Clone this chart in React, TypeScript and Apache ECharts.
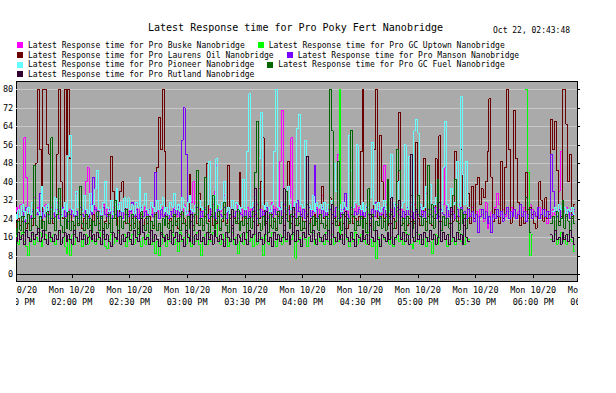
import { useEffect, useRef } from "react";
import * as echarts from "echarts";

const N = null;

const chartTitle = "Latest Response time for Pro Poky Fert Nanobridge";
const stamp = "Oct 22, 02:43:48";

const seriesNames = [
  "Latest Response time for Pro Buske Nanobridge",
  "Latest Response time for Pro GC Uptown Nanobridge",
  "Latest Response time for Pro Laurens Oil Nanobridge",
  "Latest Response time for Pro Manson Nanobridge",
  "Latest Response time for Pro Pioneer Nanobridge",
  "Latest Response time for Pro GC Fuel Nanobridge",
  "Latest Response time for Pro Rutland Nanobridge",
];
const seriesColors = ["#ff00ff", "#00ff00", "#6b0000", "#7a00ff", "#66ffff", "#006600", "#330033"];
const legendRows = [[0, 1], [2, 3], [4, 5], [6]];

const yTicks = [0, 8, 16, 24, 32, 40, 48, 56, 64, 72, 80];
const xTickClock = ["14:00", "14:30", "15:00", "15:30", "16:00", "16:30", "17:00", "17:30", "18:00"];
const edgeClock = ["13:30", "18:30"];
const firstSample = "13:31";
const axisStart = ["13:31", 6];
const axisEnd = ["18:22", 48];

// one sample per minute, starting 13:31
const buske = [
  27,29,26,30,28,59,42,27,25,28,33,26,29,27,25,28,30,26,27,29,
  26,28,31,27,25,29,27,30,26,28,27,25,35,29,26,28,27,40,46,30,
  27,26,29,25,28,27,30,26,28,25,27,29,26,28,30,25,27,26,29,27,
  28,25,27,30,26,28,25,27,29,26,28,29,26,25,27,28,26,29,27,25,
  28,26,27,29,25,27,28,26,30,27,25,28,31,40,29,26,28,25,27,29,
  26,28,27,30,36,47,29,27,28,34,26,27,29,25,28,30,27,26,28,25,
  27,29,26,28,25,27,30,37,28,26,29,27,25,28,31,27,29,26,49,71,
  30,27,29,33,59,28,26,27,29,25,28,27,26,30,28,25,27,29,26,28,
  34,27,26,28,29,26,27,25,52,30,28,26,29,27,25,28,26,30,27,29,
  26,28,25,27,29,26,28,27,25,29,26,28,47,30,27,26,28,25,29,27,
  26,28,27,25,29,26,27,28,30,26,25,28,27,29,35,26,28,25,27,29,
  26,28,27,30,46,29,26,28,27,25,29,30,28,26,27,25,28,26,29,24,
  27,25,28,26,23,31,20,22,27,25,29,35,30,26,28,25,27,24,29,26,
  28,25,27,24,26,29,27,25,30,28,26,25,27,29,26,24,28,22,27,25,
  28,26,27,36,53,30,27,29,26,28,25,27,
];
const gcUptown = [
  15,17,13,16,18,14,12,8,15,17,13,16,14,18,12,15,17,13,16,14,
  17,13,15,18,14,16,12,9,15,8,17,13,16,14,18,12,15,17,13,16,
  14,17,13,15,18,14,16,12,11,15,17,13,16,14,18,13,15,17,12,16,
  14,17,13,15,18,14,12,16,13,17,15,13,16,9,14,8,13,17,15,12,
  16,14,17,13,15,10,18,14,16,13,17,15,12,16,14,18,13,8,15,17,
  13,16,14,18,34,50,15,13,17,14,16,12,15,18,13,16,9,14,17,13,
  15,18,14,16,12,17,13,15,16,8,14,17,13,16,18,14,12,15,17,13,
  16,14,18,13,15,17,7,14,16,13,17,15,12,16,14,18,13,15,17,14,
  16,13,18,14,15,17,13,16,14,80,15,13,17,15,12,16,14,18,13,15,
  17,14,16,13,18,15,12,14,7,16,13,17,15,14,18,13,16,12,15,17,
  14,16,13,18,15,17,13,11,16,14,17,13,15,18,12,16,14,9,15,17,
  13,16,14,18,15,12,17,14,16,13,15,18,14,17,13,16,15,N,N,N,
  N,N,N,N,N,N,N,N,N,N,N,N,N,N,N,N,N,N,N,N,
  N,N,N,N,N,N,80,44,8,17,N,N,N,N,N,N,N,N,N,15,
  14,17,13,15,18,14,16,13,17,15,14,10,
];
const laurensOil = [
  22,20,24,21,23,25,20,22,26,21,24,48,80,54,23,80,80,56,52,24,
  22,25,52,80,40,24,80,52,80,50,23,21,25,22,26,20,24,22,25,21,
  23,26,21,24,22,25,20,23,26,22,51,36,24,21,25,36,40,33,22,26,
  21,24,22,25,20,23,26,21,24,22,25,23,21,26,46,68,54,80,53,25,
  22,24,21,25,23,20,26,22,24,21,25,43,23,21,26,22,35,24,21,25,
  48,23,26,21,24,22,25,20,23,26,22,47,24,21,25,23,22,44,26,21,
  24,22,25,20,23,26,21,24,40,59,25,22,24,21,26,23,20,25,22,24,
  21,26,49,23,22,25,21,24,22,26,20,23,25,22,24,21,26,23,25,22,
  38,24,21,26,33,22,25,23,21,24,26,22,25,20,23,26,22,24,21,25,
  53,80,24,22,26,21,25,54,80,24,60,40,23,26,21,25,22,24,20,40,
  70,25,22,26,21,24,23,25,22,57,24,21,26,50,23,25,22,21,24,50,
  26,60,23,25,21,24,22,26,23,53,25,22,54,24,21,26,35,22,38,24,
  39,42,30,37,33,40,53,76,42,23,28,25,22,49,24,46,80,54,22,25,
  71,50,31,21,25,22,44,24,29,26,22,20,25,40,32,23,33,24,26,67,
  54,66,45,23,25,80,80,65,40,52,24,30,
];
const manson = [
  26,24,28,25,27,23,29,26,24,27,25,28,26,35,24,27,25,29,26,24,
  27,25,28,24,26,29,25,27,23,26,28,25,27,24,29,26,25,28,24,27,
  26,42,28,25,27,24,29,26,25,28,24,27,26,29,25,27,24,28,26,25,
  27,31,25,28,24,26,29,25,27,24,28,26,25,44,27,24,28,25,26,29,
  24,27,25,28,26,29,25,58,72,52,27,24,28,25,26,29,24,27,25,28,
  26,24,29,25,27,24,28,26,25,29,24,27,26,28,25,27,24,29,26,25,
  28,24,27,25,29,26,24,28,25,27,26,29,24,27,25,28,26,24,29,25,
  27,24,28,26,25,29,24,32,27,25,28,24,26,29,25,27,47,28,24,26,
  29,25,27,24,28,26,25,29,24,27,25,28,35,26,24,29,25,27,26,28,
  24,27,25,29,26,24,28,25,31,27,24,26,29,25,28,24,27,25,30,29,
  28,25,27,24,29,26,25,28,24,27,26,29,25,27,24,28,26,25,29,24,
  27,25,28,26,24,29,25,27,26,24,28,25,29,26,27,24,28,25,27,23,
  26,18,25,28,24,27,22,25,18,26,24,28,25,27,23,26,29,24,27,25,
  28,24,26,30,25,27,23,26,28,24,27,25,29,24,26,28,25,27,24,52,
  36,27,25,28,24,26,29,25,27,24,26,28,
];
const pioneer = [
  26,24,28,25,30,27,24,29,26,31,25,28,27,24,38,29,26,30,25,28,
  27,33,26,29,25,28,31,27,51,60,28,26,36,29,25,27,34,28,26,35,
  27,30,37,45,28,26,31,40,29,27,32,26,30,37,28,31,27,33,29,33,
  28,30,26,31,29,42,27,30,35,28,26,31,29,27,32,28,30,33,27,29,
  26,31,29,35,28,30,27,33,29,26,31,34,28,27,30,26,32,29,28,27,
  30,49,29,33,27,50,30,28,31,40,27,29,26,32,28,31,30,27,29,41,
  28,53,78,29,31,33,27,50,70,30,28,31,29,27,30,53,80,29,28,31,
  27,29,38,30,28,26,31,63,69,30,29,58,48,30,28,34,27,31,29,30,
  28,31,27,30,29,32,48,36,28,30,27,31,29,28,60,45,29,31,56,30,
  28,31,27,30,29,33,57,30,28,31,27,29,32,28,30,27,52,31,29,30,
  40,29,31,56,28,51,30,27,62,67,61,30,28,29,38,31,39,28,30,33,
  29,31,27,46,66,30,28,37,30,31,49,29,77,43,30,49,29,N,N,N,
  N,N,N,N,N,N,N,N,N,N,N,N,N,N,N,N,N,N,N,N,
  N,N,N,N,N,N,N,N,N,N,N,N,N,N,N,N,N,N,N,N,
  27,29,26,30,28,27,29,26,28,27,29,26,
];
const gcFuel = [
  20,17,23,19,25,18,22,26,19,24,47,21,18,25,20,23,19,27,22,59,
  24,19,26,37,21,18,24,20,27,19,23,17,25,21,38,22,19,26,20,24,
  18,23,21,27,19,25,17,22,20,26,18,24,32,21,19,25,20,23,28,22,
  19,26,20,24,17,22,27,21,19,25,18,23,20,26,19,22,17,24,21,25,
  20,23,18,26,21,24,19,27,22,18,25,20,23,19,26,45,21,24,19,42,
  22,18,25,34,20,23,27,19,24,31,21,18,26,20,24,22,28,19,23,21,
  25,18,24,20,27,44,66,22,19,25,21,23,18,26,20,24,19,27,22,25,
  19,36,23,20,26,18,24,21,25,19,23,20,30,22,18,25,21,24,19,26,
  22,20,25,19,80,62,24,21,49,23,19,26,20,24,22,62,25,19,23,21,
  25,20,24,18,37,22,26,19,23,21,25,20,24,19,41,22,26,20,23,54,
  45,21,24,19,25,22,34,20,23,18,34,25,21,24,19,47,22,30,20,26,
  41,23,19,25,21,24,20,22,34,41,23,19,28,22,26,20,24,N,N,N,
  N,N,N,N,N,N,N,N,N,N,N,N,N,N,N,N,N,N,N,N,
  N,N,N,N,N,N,33,28,18,N,N,N,N,N,N,N,N,N,N,22,
  25,19,27,21,24,32,20,26,23,19,25,22,
];
const rutland = [
  16,14,18,15,17,13,19,16,14,18,15,17,20,14,16,19,15,13,18,16,
  14,17,15,19,13,16,18,14,17,15,13,19,16,14,18,15,17,13,16,19,
  15,17,14,18,16,13,19,15,17,14,12,18,16,15,19,13,17,14,16,18,
  15,13,19,16,14,17,24,18,15,16,13,19,14,17,15,12,18,16,14,17,
  15,19,13,16,18,14,17,15,12,19,16,14,26,13,17,15,19,14,16,13,
  18,15,17,13,19,16,14,17,15,12,18,16,14,28,15,13,17,16,14,18,
  15,13,19,16,17,37,14,18,15,13,17,27,14,16,12,18,15,17,14,16,
  37,15,18,13,17,29,14,19,15,12,18,16,51,17,14,19,15,13,18,16,
  14,17,15,19,13,30,16,14,18,15,17,13,27,16,14,18,15,12,17,16,
  14,19,15,17,13,26,16,14,19,15,12,17,16,14,18,15,33,13,16,17,
  32,15,18,14,17,13,52,16,14,28,15,17,13,18,16,14,19,15,17,13,
  16,31,14,18,15,17,13,29,16,14,18,15,17,13,24,16,14,N,N,N,
  N,N,N,N,N,N,N,N,N,N,N,N,N,N,N,N,N,N,N,N,
  N,N,N,N,N,N,N,N,N,N,N,N,N,N,N,N,N,N,N,17,
  14,19,15,16,13,18,15,17,14,19,16,13,
];
const seriesValues = [buske, gcUptown, laurensOil, manson, pioneer, gcFuel, rutland];

const FONT = "'DejaVu Sans Mono', monospace";
const Y_MIN = -2.9;
const Y_MAX = 83.6;

function clockToMs(hhmm: string, sec = 0): number {
  const [h, m] = hhmm.split(":").map(Number);
  return new Date(2025, 9, 20, h, m, sec).getTime();
}
const WEEKDAYS = ["Sun", "Mon", "Tue", "Wed", "Thu", "Fri", "Sat"];
function fmtTime(v: number): string {
  const d = new Date(v);
  const h = d.getHours();
  const h12 = ((h + 11) % 12) + 1;
  const ap = h < 12 ? "AM" : "PM";
  const mm = String(d.getMinutes()).padStart(2, "0");
  return `${WEEKDAYS[d.getDay()]} ${d.getMonth() + 1}/${d.getDate()}\n${String(h12).padStart(2, "0")}:${mm} ${ap}`;
}

export default function App() {
  const ref = useRef<HTMLDivElement>(null);
  useEffect(() => {
    if (!ref.current) return;
    const chart = echarts.init(ref.current, null, { renderer: "svg" });
    const t0 = clockToMs(firstSample);
    const xMin = clockToMs(axisStart[0] as string, axisStart[1] as number);
    const xMax = clockToMs(axisEnd[0] as string, axisEnd[1] as number);
    const xTicks = xTickClock.map((c) => clockToMs(c));
    const txt = { fontFamily: FONT, color: "#000", fontWeight: "normal" as const };

    chart.setOption({
      animation: false,
      backgroundColor: "#ffffff",
      title: [
        { text: chartTitle, left: 148, top: 22, padding: 0, textStyle: { ...txt, fontSize: 10 } },
        { text: stamp, left: 493, top: 26, padding: 0, textStyle: { ...txt, fontSize: 8 } },
      ],
      legend: legendRows.map((row, k) => ({
        data: row.map((i) => seriesNames[i]),
        left: 17,
        top: [41, 51, 60.5, 70][k],
        padding: 0,
        orient: "horizontal",
        itemWidth: 6,
        itemHeight: 6,
        itemGap: 13,
        icon: "rect",
        selectedMode: false,
        textStyle: { ...txt, fontSize: 8 },
      })),
      grid: {
        left: 16, right: 39, top: 81, bottom: 112,
        show: true, backgroundColor: "#aaaaaa", borderColor: "#000", borderWidth: 1,
      },
      xAxis: {
        type: "value",
        min: xMin,
        max: xMax,
        axisLine: { lineStyle: { color: "#000", width: 1 } },
        axisTick: { show: true, length: 4, customValues: xTicks, lineStyle: { color: "#000" } },
        axisLabel: {
          customValues: xTicks, formatter: (v: number) => fmtTime(v),
          ...txt, fontSize: 8.5, lineHeight: 12, margin: 3, hideOverlap: false,
        },
        splitLine: { show: false },
      },
      yAxis: [
        {
          type: "value", min: Y_MIN, max: Y_MAX,
          axisLine: { show: false },
          axisTick: { show: false, customValues: yTicks },
          axisLabel: { customValues: yTicks, ...txt, fontSize: 8.5, margin: 3 },
          splitLine: { show: true, lineStyle: { color: "#c8c8c8", width: 1 } },
        },
        {
          type: "value", min: Y_MIN, max: Y_MAX, position: "right",
          axisLine: { show: true, lineStyle: { color: "#000" } },
          axisTick: { show: true, length: 3, customValues: yTicks, lineStyle: { color: "#000" } },
          axisLabel: { show: false, customValues: yTicks },
          splitLine: { show: false },
        },
      ],
      series: seriesValues.map((vals, k) => ({
        name: seriesNames[k],
        type: "line",
        step: "start",
        yAxisIndex: 0,
        showSymbol: false,
        symbol: "none",
        silent: true,
        emphasis: { disabled: true },
        color: seriesColors[k],
        itemStyle: { color: seriesColors[k] },
        lineStyle: { color: seriesColors[k], width: 1 },
        data: vals.map((v, i) => [t0 + i * 60000, v == null ? "-" : v]),
      })),
    });

    // partially clipped edge labels, as in the reference
    const axisY = chart.convertToPixel({ yAxisIndex: 0 }, Y_MIN) as number;
    const leftX = chart.convertToPixel({ xAxisIndex: 0 }, xMin) as number;
    const rightX = chart.convertToPixel({ xAxisIndex: 0 }, xMax) as number;
    const edgeTexts = edgeClock.map((c) => {
      const t = clockToMs(c);
      return {
        type: "text",
        x: chart.convertToPixel({ xAxisIndex: 0 }, t) as number,
        y: axisY + 3,
        z: 50,
        style: {
          text: fmtTime(t), fill: "#000", font: `8.5px ${FONT}`,
          align: "center", verticalAlign: "top", lineHeight: 12,
        },
      };
    });
    chart.setOption({
      graphic: [
        ...edgeTexts,
        { type: "rect", z: 100, shape: { x: 0, y: axisY + 1, width: leftX, height: 30 }, style: { fill: "#fff" } },
        { type: "rect", z: 100, shape: { x: rightX + 1, y: axisY + 1, width: 616 - rightX, height: 30 }, style: { fill: "#fff" } },
      ],
    });

    // pixel-crisp strokes like the bitmap reference
    const svg = ref.current.querySelector("svg");
    if (svg) (svg as SVGElement).style.shapeRendering = "crispEdges";

    return () => chart.dispose();
  }, []);
  return <div ref={ref} style={{ position: "absolute", left: 0, top: 0, width: 616, height: 393 }} />;
}
